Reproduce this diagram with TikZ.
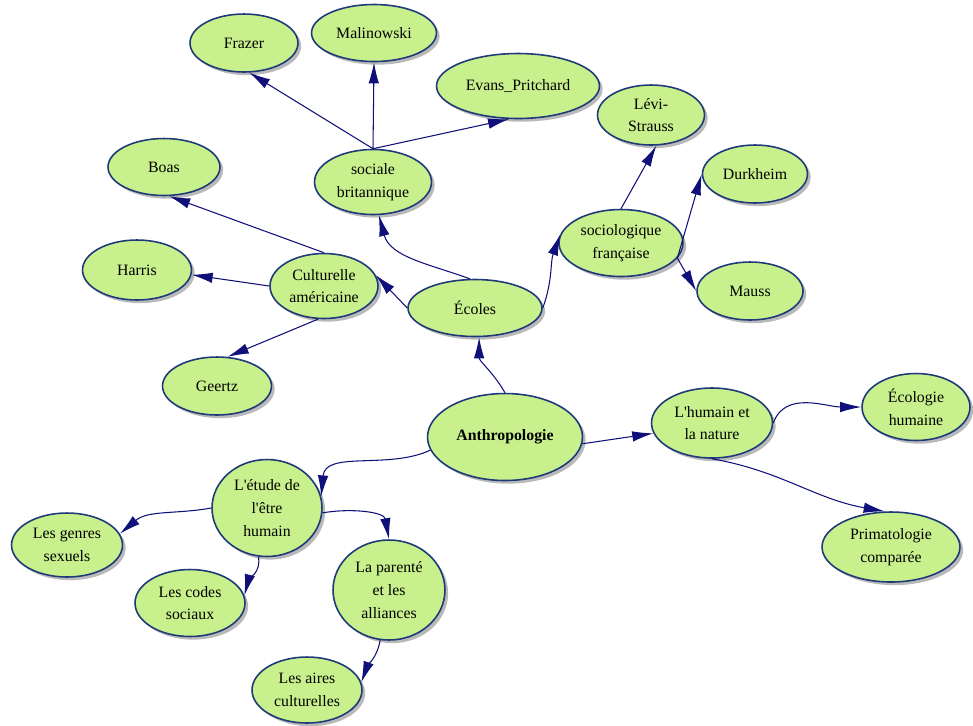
\documentclass[tikz,border=0pt]{standalone}
\usepackage{fontspec}
\setmainfont{Liberation Serif}[Ligatures=TeXOff]
\usetikzlibrary{arrows.meta,shapes.geometric,shadows}
\definecolor{leaf}{HTML}{C8F08C}
\definecolor{rim}{HTML}{1F3A78}
\definecolor{ink}{HTML}{10107A}
\tikzset{
  topic/.style={ellipse, draw=rim, line width=0.9pt, fill=leaf, inner sep=0pt,
    minimum width=2.2cm, minimum height=1.2cm, align=center,
    font=\fontsize{9}{13}\selectfont,
    drop shadow={shadow xshift=1.8pt, shadow yshift=-1.8pt, fill=black!50, opacity=0.55}},
  root/.style={topic, font=\bfseries\fontsize{9}{13}\selectfont},
  link/.style={ink, line width=0.6pt, -{Latex[length=12pt,width=6pt]}},
}

\begin{document}
\begin{tikzpicture}[x=0.02cm, y=-0.02cm]
  \useasboundingbox (0,0) rectangle (973,725);
  \node[root, minimum width=3.1cm, minimum height=1.74cm] (anth) at (505,437) {Anthropologie};
  \node[topic, minimum width=2.68cm, minimum height=1.14cm] (ecoles) at (475,308) {Écoles};
  \node[topic, minimum width=2.34cm, minimum height=1.3cm] (socbrit) at (373,182) {sociale\\britannique};
  \node[topic, minimum width=2.16cm, minimum height=1.3cm] (culamer) at (324,286) {Culturelle\\américaine};
  \node[topic, minimum width=2.48cm, minimum height=1.34cm] (socfr) at (621,243) {sociologique\\française};
  \node[topic, minimum width=2.16cm, minimum height=1.16cm] (frazer) at (244,43) {Frazer};
  \node[topic, minimum width=2.5cm, minimum height=1.14cm] (malin) at (374,33) {Malinowski};
  \node[topic, minimum width=3.26cm, minimum height=1.3cm] (evans) at (518,86) {Evans\_Pritchard};
  \node[topic, minimum width=2.24cm, minimum height=1.14cm] (boas) at (164,167) {Boas};
  \node[topic, minimum width=2.18cm] (harris) at (137,270) {Harris};
  \node[topic, minimum width=2.18cm, minimum height=1.16cm] (geertz) at (217,386) {Geertz};
  \node[topic, minimum width=2.14cm] (levi) at (651,115) {Lévi-\\Strauss};
  \node[topic, minimum width=2.1cm, minimum height=1.16cm] (durk) at (755,174) {Durkheim};
  \node[topic, minimum width=2.12cm, minimum height=1.16cm] (mauss) at (750,291) {Mauss};
  \node[topic, minimum width=2.42cm, minimum height=1.4cm] (lhum) at (712,423) {L'humain et\\la nature};
  \node[topic, minimum width=2.16cm, minimum height=1.34cm] (ecol) at (916,407) {Écologie\\humaine};
  \node[topic, minimum width=2.76cm, minimum height=1.4cm] (prim) at (891,547) {Primatologie\\comparée};
  \node[topic, minimum width=2.2cm, minimum height=1.94cm] (letude) at (267,508) {L'étude de\\l'être\\humain};
  \node[topic, minimum width=2.22cm, minimum height=1.28cm] (genres) at (67,545) {Les genres\\sexuels};
  \node[topic, minimum width=2.2cm, minimum height=1.34cm] (codes) at (190,603) {Les codes\\sociaux};
  \node[topic, minimum width=2.24cm, minimum height=2cm] (parente) at (389,590) {La parenté\\et les\\alliances};
  \node[topic, minimum width=2.2cm, minimum height=1.32cm] (aires) at (307,690) {Les aires\\culturelles};
  \draw[link] (anth.north) to[out=120,in=-90] (ecoles.-82);
  \draw[link] (ecoles.100) to[out=160,in=-75] (socbrit.-80);
  \draw[link] (ecoles.west) -- (culamer.12);
  \draw[link] (ecoles.east) to[out=70,in=-110] (socfr.172);
  \draw[link] (socbrit.north) -- (frazer.-80);
  \draw[link] (socbrit.north) -- (malin.south);
  \draw[link] (socbrit.north) -- (evans.-105);
  \draw[link] (culamer.north) -- (boas.-80);
  \draw[link] (culamer.west) -- (harris.-5);
  \draw[link] (culamer.-100) -- (geertz.70);
  \draw[link] (socfr.north) -- (levi.-80);
  \draw[link] (socfr.-15) -- (durk.west);
  \draw[link] (socfr.-15) -- (mauss.west);
  \draw[link] (anth.-5) -- (lhum.190);
  \draw[link] (lhum.east) to[out=70,in=180] (ecol.west);
  \draw[link] (lhum.-90) to[out=-10,in=170] (prim.100);
  \draw[link] (anth.190) to[out=205,in=85] (letude.12);
  \draw[link] (letude.west) to[out=190,in=40] (genres.12);
  \draw[link] (letude.-100) to[out=-80,in=75] (codes.8);
  \draw[link] (letude.-5) to[out=10,in=100] (parente.north);
  \draw[link] (parente.-100) to[out=-100,in=70] (aires.8);
\end{tikzpicture}
\end{document}
